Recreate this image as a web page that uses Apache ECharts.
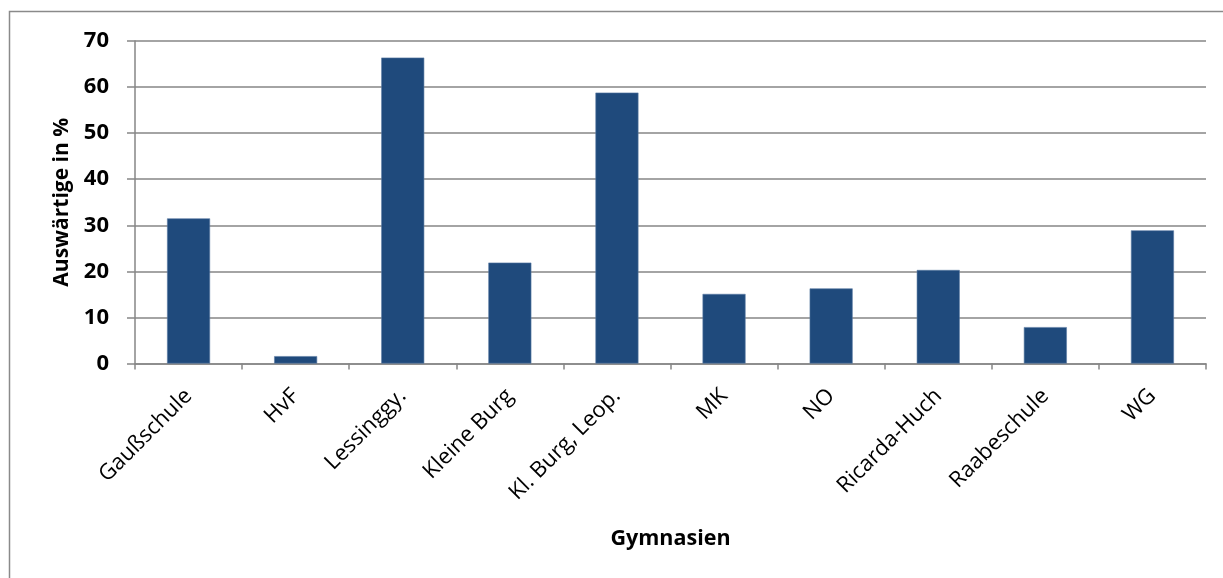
<!DOCTYPE html>
<html>
<head>
<meta charset="utf-8">
<script src="https://cdn.jsdelivr.net/npm/echarts@6/dist/echarts.min.js"></script>
<style>
html,body{margin:0;padding:0;background:#fff;}
#chart{width:1223px;height:578px;}
</style>
</head>
<body>
<div id="chart"></div>
<script>
var categories = ['Gaußschule','HvF','Lessinggy.','Kleine Burg','Kl. Burg, Leop.','MK','NO','Ricarda-Huch','Raabeschule','WG'];
var values = [31.5, 1.6, 66.4, 21.9, 58.8, 15.1, 16.3, 20.3, 7.9, 28.9];
var yTicks = [0, 10, 20, 30, 40, 50, 60, 70];
var xTitle = 'Gymnasien';
var yTitle = 'Auswärtige in %';

var FONT = '"Open Sans", "Liberation Sans", sans-serif';
var GRID = '#868686';
var chart = echarts.init(document.getElementById('chart'), null, {renderer:'canvas'});
chart.setOption({
  animation: false,
  backgroundColor: '#fff',
  graphic: [{
    type: 'rect',
    shape: {x: 9.5, y: 11.5, width: 1400, height: 800},
    style: {fill: 'none', stroke: '#8a8a8a', lineWidth: 1.5},
    silent: true, z: -1
  }],
  grid: {left: 135, right: 17, top: 41, bottom: 214.5, containLabel: false},
  xAxis: {
    type: 'category',
    data: categories,
    name: xTitle,
    nameLocation: 'middle',
    nameGap: 164,
    nameTextStyle: {fontFamily: FONT, fontWeight: 'bold', fontSize: 21.5, color: '#000'},
    axisLine: {lineStyle: {color: GRID, width: 1.5}},
    axisTick: {show: true, length: 6, lineStyle: {color: GRID, width: 1.5}},
    axisLabel: {rotate: 45, margin: 29, interval: 0, fontFamily: FONT, fontSize: 22, color: '#000'},
    splitLine: {show: false}
  },
  yAxis: {
    type: 'value',
    min: yTicks[0],
    max: yTicks[yTicks.length - 1],
    interval: 10,
    name: yTitle,
    nameLocation: 'middle',
    nameGap: 62,
    nameTextStyle: {fontFamily: FONT, fontWeight: 'bold', fontSize: 21, color: '#000'},
    axisLine: {show: true, lineStyle: {color: GRID, width: 1.5}},
    axisTick: {show: true, length: 8, lineStyle: {color: GRID, width: 1.5}},
    axisLabel: {margin: 26, fontFamily: FONT, fontWeight: 'bold', fontSize: 22, color: '#000'},
    splitLine: {show: true, lineStyle: {color: GRID, width: 1.5}}
  },
  series: [{
    type: 'bar',
    data: values,
    barWidth: 43,
    itemStyle: {color: '#1F4A7C', borderColor: '#5b7aa3', borderWidth: 0.6}
  }]
});
</script>
</body>
</html>
